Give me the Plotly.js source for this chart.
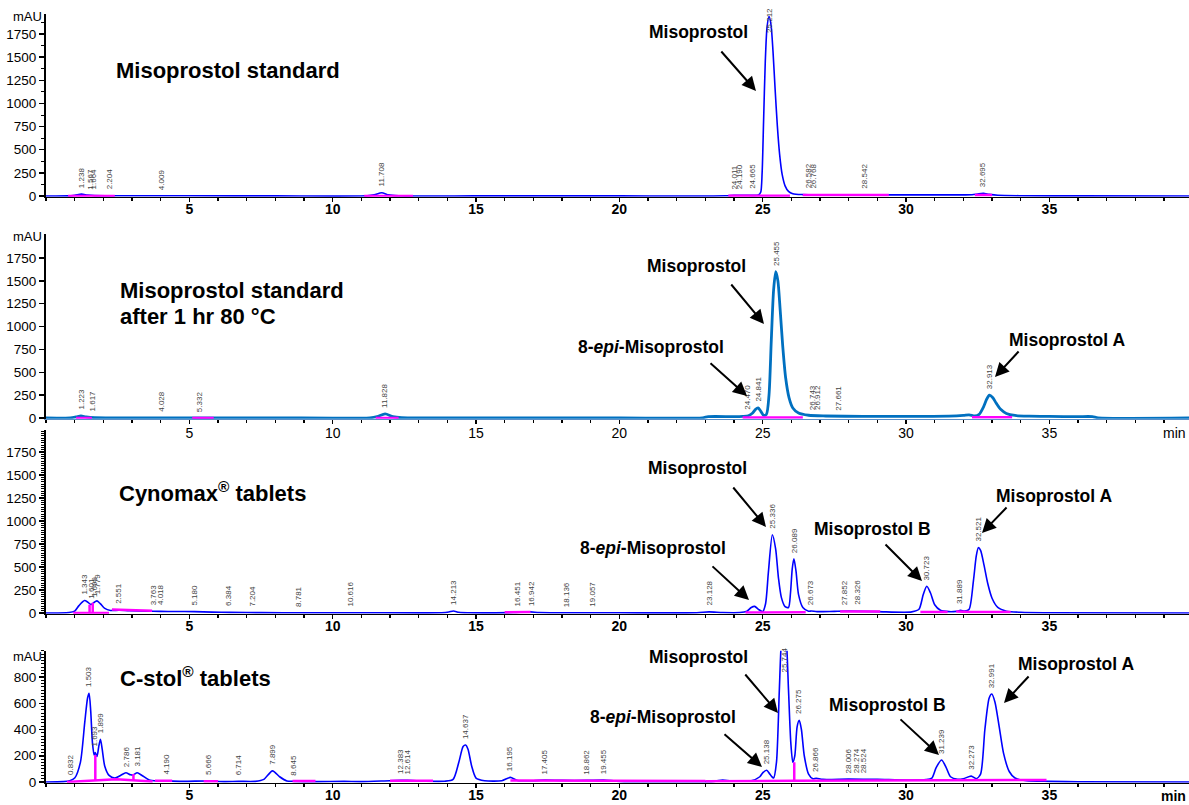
<!DOCTYPE html>
<html><head><meta charset="utf-8">
<script src="https://cdn.plot.ly/plotly-3.0.1.min.js"></script>
<style>html,body{margin:0;padding:0;background:#fff;} #chart{width:1189px;height:805px;}</style>
</head><body><div id="chart"></div>
<script>
// ---------- DATA ----------
// Panel 1: Misoprostol standard  (time in min, signal in mAU)
const t1 = [0, 0.75, 1.0, 1.24, 1.45, 1.7, 2.2, 3.0, 5.0, 8.0, 11.2, 11.45, 11.71, 11.95, 12.3, 15.0, 20.0, 23.7, 24.0, 24.5, 24.85, 24.93, 24.98, 25.03, 25.09, 25.15, 25.22, 25.29, 25.36, 25.43, 25.51, 25.59, 25.68, 25.78, 25.9, 26.05, 26.4, 27.0, 29.0, 31.0, 32.3, 32.5, 32.7, 32.9, 33.2, 34.0, 36.0, 39.87];
const s1 = [0, 1, 8, 20, 10, 4, 3, 2, 2, 1, 2, 12, 35, 12, 3, 1, 1, 2, 8, 8, 10, 40, 250, 800, 1450, 1820, 1940, 1850, 1560, 1170, 760, 450, 230, 110, 50, 25, 15, 12, 12, 12, 14, 22, 28, 18, 8, 3, 1, 0];
// Panel 2: Misoprostol standard after 1 hr 80 °C
const t2 = [0, 0.85, 1.05, 1.22, 1.4, 1.7, 2.5, 5.0, 8.0, 11.3, 11.55, 11.83, 12.1, 12.4, 15.0, 20.0, 22.9, 23.1, 24.0, 24.3, 24.5, 24.65, 24.75, 24.84, 24.93, 25.03, 25.13, 25.22, 25.3, 25.38, 25.455, 25.53, 25.61, 25.7, 25.8, 25.92, 26.05, 26.25, 26.6, 27.2, 28.5, 30.0, 31.5, 32.0, 32.2, 32.4, 32.55, 32.7, 32.82, 32.91, 33.02, 33.15, 33.3, 33.5, 33.8, 34.3, 35.0, 36.0, 36.5, 36.7, 39.87];
const s2 = [0, 2, 12, 22, 12, 4, 2, 2, 1, 2, 15, 45, 15, 3, 1, 1, 2, 15, 15, 18, 25, 55, 95, 110, 75, 30, 40, 250, 850, 1400, 1600, 1500, 1180, 780, 440, 220, 110, 55, 30, 22, 18, 18, 20, 28, 35, 22, 40, 120, 210, 250, 225, 160, 95, 50, 28, 20, 17, 15, 15, 2, 0];
// Panel 3: Cynomax tablets
const t3 = [0, 0.8, 1.0, 1.15, 1.343, 1.45, 1.57, 1.7, 1.779, 1.9, 2.05, 2.25, 2.55, 2.9, 3.5, 4.0, 4.5, 5.18, 5.8, 6.4, 7.5, 9.0, 11.0, 13.8, 14.05, 14.21, 14.4, 14.7, 16.3, 16.6, 16.9, 17.2, 18.0, 20.0, 22.7, 23.13, 23.6, 24.2, 24.45, 24.6, 24.72, 24.85, 25.0, 25.1, 25.2, 25.336, 25.45, 25.55, 25.65, 25.78, 25.9, 25.97, 26.03, 26.089, 26.16, 26.25, 26.4, 26.6, 26.7, 26.9, 27.5, 28.0, 29.0, 30.2, 30.45, 30.6, 30.723, 30.85, 31.0, 31.2, 31.5, 31.75, 31.9, 32.05, 32.2, 32.35, 32.45, 32.521, 32.6, 32.72, 32.85, 33.0, 33.2, 33.5, 34.0, 35.0, 39.87];
const s3 = [0, 5, 20, 80, 135, 120, 92, 120, 132, 100, 50, 28, 30, 25, 20, 18, 16, 15, 10, 7, 4, 3, 3, 3, 10, 22, 8, 3, 5, 8, 12, 5, 3, 2, 3, 12, 5, 5, 20, 60, 72, 40, 15, 100, 450, 850, 700, 380, 170, 70, 60, 220, 480, 590, 460, 200, 60, 20, 22, 15, 18, 20, 15, 12, 40, 200, 290, 220, 90, 30, 15, 18, 28, 20, 40, 350, 620, 710, 680, 520, 320, 160, 60, 20, 8, 3, 0];
// Panel 4: C-stol tablets
const t4 = [0, 0.6, 0.832, 1.0, 1.2, 1.35, 1.45, 1.503, 1.56, 1.62, 1.68, 1.72, 1.78, 1.84, 1.899, 1.96, 2.05, 2.2, 2.4, 2.6, 2.786, 2.95, 3.05, 3.181, 3.35, 3.6, 3.9, 4.19, 4.8, 5.666, 6.2, 6.714, 7.3, 7.6, 7.899, 8.15, 8.4, 8.645, 9.5, 10.4, 11.0, 12.0, 12.383, 12.614, 13.0, 13.9, 14.2, 14.4, 14.55, 14.637, 14.72, 14.85, 15.0, 15.3, 15.9, 16.195, 16.45, 17.0, 17.405, 18.0, 18.862, 19.455, 20.0, 22.0, 23.3, 23.6, 23.9, 24.6, 24.9, 25.0, 25.138, 25.25, 25.38, 25.48, 25.58, 25.66, 25.744, 25.82, 25.9, 25.98, 26.05, 26.12, 26.2, 26.275, 26.35, 26.45, 26.6, 26.75, 26.866, 27.1, 28.0, 29.0, 30.0, 30.7, 30.9, 31.05, 31.239, 31.4, 31.55, 31.8, 32.0, 32.273, 32.45, 32.6, 32.75, 32.9, 32.991, 33.1, 33.25, 33.4, 33.6, 33.8, 34.2, 35.0, 36.0, 39.87];
const s4 = [0, 3, 10, 30, 150, 450, 640, 675, 540, 300, 205, 225, 195, 270, 325, 250, 120, 50, 30, 50, 70, 55, 55, 70, 50, 15, 8, 8, 5, 8, 3, 5, 5, 20, 85, 40, 8, 5, 3, 5, 3, 10, 12, 12, 8, 6, 20, 150, 270, 282, 250, 120, 30, 10, 10, 35, 12, 10, 15, 12, 12, 15, 5, 3, 5, 15, 8, 10, 40, 70, 90, 60, 30, 150, 700, 1100, 1200, 1100, 700, 300, 150, 200, 420, 470, 400, 200, 60, 25, 28, 20, 22, 20, 15, 18, 30, 110, 168, 110, 40, 20, 25, 45, 25, 60, 400, 640, 670, 610, 420, 220, 80, 30, 10, 5, 2, 0];

// Integration baselines (magenta), segments separated by null
const m1x = [0.77, 2.4, null, 11.1, 12.8, null, 23.8, 25.95, null, 26.4, 29.4, null, 32.4, 33.0];
const m1y = [0, 0, null, 0, 0, null, 3, 3, null, 10, 10, null, 12, 12];
const m2x = [1.05, 1.6, null, 5.1, 5.85, null, 11.5, 12.3, null, 24.3, 26.4, null, 32.3, 33.7];
const m2y = [0, 0, null, 0, 0, null, 0, 0, null, 5, 5, null, 8, 8];
const m3x = [0.95, 2.2, null, 1.52, 1.52, null, 1.63, 1.63, null, 2.3, 3.7, null, 16.0, 16.9, null, 24.4, 25.95, 26.5, null, 27.7, 29.1, null, 30.5, 31.45, null, 31.75, 32.25, 33.65];
const m3y = [0, 0, null, 0, 90, null, 0, 112, null, 38, 25, null, 8, 10, null, 5, 5, 8, null, 15, 15, null, 12, 12, null, 15, 12, 12];
const m4x = [0.73, 2.45, 3.72, null, 1.72, 1.72, null, 3.05, 3.05, null, 3.8, 4.4, null, 5.5, 6.0, null, 8.6, 9.4, null, 12.0, 13.5, null, 16.2, 23.0, null, 23.0, 26.1, 34.9, null, 26.1, 26.1];
const m4y = [0, 21, 3, null, 10, 205, null, 12, 60, null, 10, 10, null, 5, 5, null, 8, 8, null, 10, 10, null, 12, 8, null, 5, 10, 15, null, 10, 150];

// Retention-time labels and the signal height they sit on
const lab1 = ["1.238","1.567","1.664","2.204","4.009","11.708","24.011","24.190","24.665","25.212","26.582","26.768","28.542","32.695"];
const lab1h = [20, 8, 8, 4, 3, 35, 8, 8, 8, 1700, 14, 14, 12, 28];
const lab2 = ["1.223","1.617","4.028","5.332","11.828","24.470","24.841","25.455","26.743","26.912","27.661","32.913"];
const lab2h = [22, 4, 2, 2, 45, 25, 110, 1600, 22, 22, 20, 250];
const lab3 = ["1.343","1.601","1.699","1.779","2.551","3.763","4.018","5.180","6.384","7.204","8.781","10.616","14.213","16.451","16.942","18.136","19.057","23.128","25.336","26.089","26.673","27.852","28.326","30.723","31.889","32.521"];
const lab3h = [135, 95, 110, 132, 30, 22, 18, 15, 7, 5, 3, 3, 22, 8, 12, 3, 2, 12, 850, 590, 22, 18, 20, 290, 28, 710];
const lab4 = ["0.832","1.503","1.693","1.899","2.786","3.181","4.190","5.666","6.714","7.899","8.645","12.383","12.614","14.637","16.195","17.405","18.862","19.455","25.138","25.744","26.275","26.866","28.006","28.274","28.524","31.239","32.273","32.991"];
const lab4h = [10, 675, 225, 325, 70, 70, 8, 8, 5, 85, 5, 12, 12, 282, 35, 15, 12, 15, 90, 785, 470, 28, 22, 22, 22, 168, 45, 670];

const xTicks = [5, 10, 15, 20, 25, 30, 35];
const yTicks123 = [0, 250, 500, 750, 1000, 1250, 1500, 1750];
const yTicks4 = [0, 200, 400, 600, 800];

// ---------- LAYOUT ----------
const W = 1189, H = 805, ML = 46;
const FONT = 'Liberation Sans, Arial, Helvetica, sans-serif';
const PX = p => (p - ML) / (W - ML);
const PY = p => 1 - p / H;

const panels = [
  {zero: 196, unit: 23.14 / 250, lo: -8, hi: 1966, ticks: yTicks123, minor: 125, bold: true, xcol: '#000', so: -5},
  {zero: 418, unit: 160 / 1750, lo: -8, hi: 2012, ticks: yTicks123, minor: null, bold: false, xcol: '#5b8fc9', so: -3},
  {zero: 613, unit: 161 / 1750, lo: -8, hi: 1990, ticks: yTicks123, minor: 25, bold: true, xcol: '#000', so: -5},
  {zero: 782, unit: 105 / 800, lo: -6, hi: 1000, ticks: yTicks4, minor: 25, bold: true, xcol: '#000', so: -5}
];

const layout = {
  width: W, height: H,
  margin: {l: ML, r: 0, t: 0, b: 0},
  paper_bgcolor: '#fff', plot_bgcolor: '#fff',
  showlegend: false,
  font: {family: FONT, color: '#000'},
  annotations: []
};

panels.forEach((p, i) => {
  const n = i === 0 ? '' : String(i + 1);
  const bottomPx = p.zero - p.lo * p.unit;
  const topPx = p.zero - p.hi * p.unit;
  layout['xaxis' + n] = {
    anchor: 'y' + n, domain: [0, 1], range: [0, 39.87],
    tickmode: 'array', tickvals: xTicks, ticktext: xTicks.map(String),
    ticks: 'outside', ticklen: 4, tickwidth: 1.5, tickcolor: '#000',
    ticklabelstandoff: p.so,
    minor: {dtick: 1, tick0: 0, ticks: 'outside', ticklen: 3, tickwidth: 1.2, tickcolor: '#000'},
    showline: true, linecolor: p.xcol, linewidth: 1.5,
    showgrid: false, zeroline: false, fixedrange: true,
    tickfont: {family: FONT, size: 14, color: '#000', weight: p.bold ? 'bold' : 'normal'}
  };
  const ya = {
    anchor: 'x' + n, domain: [PY(bottomPx), PY(topPx)], range: [p.lo, p.hi],
    tickmode: 'array', tickvals: p.ticks, ticktext: p.ticks.map(String),
    ticks: 'outside', ticklen: 5, tickwidth: 1.5, tickcolor: '#000',
    showline: true, linecolor: '#000', linewidth: 2,
    showgrid: false, zeroline: false, fixedrange: true,
    tickfont: {family: FONT, size: 13.5, color: '#000'}
  };
  if (p.minor) ya.minor = {dtick: p.minor, tick0: 0, ticks: 'outside', ticklen: 3, tickwidth: 1, tickcolor: '#000'};
  layout['yaxis' + n] = ya;
});

// ---------- TRACES ----------
const series = [[t1, s1, '#0000ff', 1.6], [t2, s2, '#0070c0', 2.8], [t3, s3, '#0000ff', 1.6], [t4, s4, '#0000ff', 1.6]];
const mags = [[m1x, m1y], [m2x, m2y], [m3x, m3y], [m4x, m4y]];
const traces = [];
series.forEach((s, i) => {
  const n = i === 0 ? '' : String(i + 1);
  traces.push({x: s[0], y: s[1], xaxis: 'x' + n, yaxis: 'y' + n, type: 'scatter', mode: 'lines',
    line: {color: s[2], width: s[3], shape: 'spline', smoothing: 0.7}, hoverinfo: 'skip'});
});
mags.forEach((m, i) => {
  const n = i === 0 ? '' : String(i + 1);
  traces.push({x: m[0], y: m[1], xaxis: 'x' + n, yaxis: 'y' + n, type: 'scatter', mode: 'lines',
    connectgaps: false, line: {color: '#ff00ff', width: 2.5}, hoverinfo: 'skip'});
});

// ---------- ANNOTATIONS ----------
const A = layout.annotations;
// retention time labels
[[lab1, lab1h], [lab2, lab2h], [lab3, lab3h], [lab4, lab4h]].forEach((L, i) => {
  const n = i === 0 ? '' : String(i + 1);
  L[0].forEach((txt, k) => {
    A.push({xref: 'x' + n, yref: 'y' + n, x: parseFloat(txt), y: L[1][k], text: txt,
      showarrow: false, textangle: -90, xanchor: 'center', yanchor: 'bottom', yshift: 4,
      font: {family: FONT, size: 8, color: '#444'}});
  });
});
function txt(x, y, text, size, opts) {
  A.push(Object.assign({xref: 'paper', yref: 'paper', x: PX(x), y: PY(y), text: text, showarrow: false,
    xanchor: 'center', yanchor: 'middle', font: {family: FONT, size: size, color: '#000', weight: 'bold'}}, opts || {}));
}
function arrow(tx, ty, hx, hy) {
  A.push({xref: 'paper', yref: 'paper', x: PX(hx), y: PY(hy), ax: tx - hx, ay: ty - hy, text: '',
    showarrow: true, arrowhead: 2, arrowsize: 1.4, arrowwidth: 2, arrowcolor: '#000'});
}
// panel titles
txt(114, 71, 'Misoprostol standard', 22, {xanchor: 'left'});
txt(118, 290, 'Misoprostol standard', 22, {xanchor: 'left'});
txt(118, 316, 'after 1 hr 80 °C', 22, {xanchor: 'left'});
txt(117, 492, 'Cynomax<sup>®</sup> tablets', 22, {xanchor: 'left'});
txt(118, 677, 'C-stol<sup>®</sup> tablets', 22, {xanchor: 'left'});
// compound labels + arrows
const EPI = '8-<i>epi</i>-Misoprostol';
txt(698, 32, 'Misoprostol', 17.5); arrow(720, 50, 756, 91);
txt(696, 266, 'Misoprostol', 17.5); arrow(730, 283, 764, 324);
txt(726, 347, EPI, 17.5, {xanchor: 'right'}); arrow(709, 362, 747, 396);
txt(1067, 340, 'Misoprostol A', 17.5); arrow(1020, 350, 995, 377);
txt(697, 468, 'Misoprostol', 17.5); arrow(732, 486, 766, 527);
txt(728, 548, EPI, 17.5, {xanchor: 'right'}); arrow(711, 565, 749, 600);
txt(872, 529, 'Misoprostol B', 17.5); arrow(884, 543, 922, 581);
txt(1054, 496, 'Misoprostol A', 17.5); arrow(1008, 506, 982, 533);
txt(698, 657, 'Misoprostol', 17.5); arrow(744, 673, 778, 713);
txt(738, 717, EPI, 17.5, {xanchor: 'right'}); arrow(723, 733, 762, 767);
txt(887, 705, 'Misoprostol B', 17.5); arrow(899, 718, 939, 755);
txt(1076, 664, 'Misoprostol A', 17.5); arrow(1030, 675, 1004, 703);
// unit labels
const reg = {font: {family: FONT, size: 13, color: '#000'}, xanchor: 'right'};
txt(44, 17, 'mAU', 13, reg);
txt(44, 236, 'mAU', 13, reg);
txt(44, 656, 'mAU', 13, reg);
txt(1188, 433, 'min', 14, {xanchor: 'right', font: {family: FONT, size: 14, color: '#000'}});
txt(1188, 796, 'min', 14, {xanchor: 'right'});

Plotly.newPlot('chart', traces, layout, {displayModeBar: false, staticPlot: true});
</script>
</body></html>
